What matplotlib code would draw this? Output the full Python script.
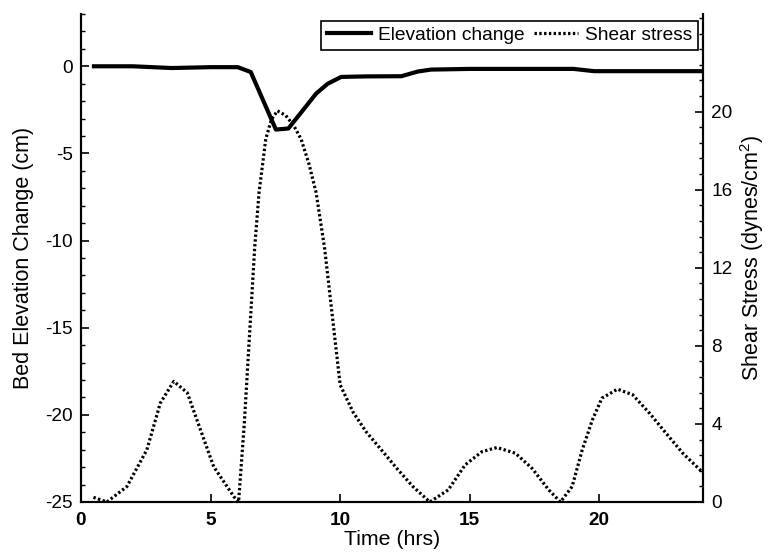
import matplotlib
matplotlib.use("Agg")
import matplotlib.pyplot as plt
from matplotlib.ticker import MultipleLocator

plt.rcParams['font.family'] = ['Liberation Sans', 'DejaVu Sans']
plt.rcParams['mathtext.fontset'] = 'custom'
plt.rcParams['mathtext.rm'] = 'Liberation Sans'
plt.rcParams['axes.unicode_minus'] = False

# Bed elevation change (cm) versus time (hrs)
t_elev = [0.5, 2.0, 3.5, 5.0, 6.05, 6.55, 7.52, 8.0, 8.5, 9.07, 9.52, 10.04,
          11.0, 12.36, 13.0, 13.5, 15.0, 17.0, 19.0, 19.8, 22.0, 24.0]
elev = [0.0, 0.0, -0.1, -0.05, -0.05, -0.33, -3.63, -3.57, -2.64, -1.57, -1.0, -0.61,
        -0.58, -0.57, -0.3, -0.19, -0.15, -0.15, -0.15, -0.28, -0.28, -0.28]

# Bed shear stress (dynes/cm^2) versus time (hrs)
t_shear = [0.48, 1.0, 1.77, 2.54, 3.06, 3.58, 4.1, 4.61, 5.12, 5.9, 6.08, 6.3, 6.5,
           6.7, 6.87, 7.13, 7.35, 7.58, 7.9, 8.2, 8.49, 8.8, 9.07, 9.4, 9.7, 10.0,
           10.5, 11.0, 11.59, 12.2, 12.8, 13.46, 14.17, 14.82, 15.47, 16.05, 16.76,
           17.4, 18.05, 18.5, 18.95, 19.34, 19.73, 20.1, 20.7, 21.28, 21.93, 22.57,
           23.22, 24.0]
shear = [0.24, 0.0, 0.79, 2.67, 5.07, 6.18, 5.6, 3.7, 1.81, 0.27, 0.0, 4.0, 8.5,
         13.0, 15.86, 18.6, 19.6, 20.04, 19.8, 19.3, 18.6, 17.3, 15.86, 13.0, 9.5, 6.0,
         4.6, 3.6, 2.67, 1.7, 0.8, 0.0, 0.62, 1.9, 2.58, 2.79, 2.5,
         1.73, 0.62, 0.0, 0.79, 2.67, 4.2, 5.32, 5.78, 5.5, 4.56, 3.53,
         2.5, 1.5]

x_ticks = [0, 5, 10, 15, 20]
left_ticks = [-25, -20, -15, -10, -5, 0]
right_ticks = [0, 4, 8, 12, 16, 20]

W, H = 771, 555
fig = plt.figure(figsize=(W / 100, H / 100), dpi=100)
ax = fig.add_axes([81 / W, (H - 502) / H, (703 - 81) / W, (502 - 14) / H])
ax2 = ax.twinx()

l1, = ax.plot(t_elev, elev, color='black', lw=3.0, solid_joinstyle='round',
              label='Elevation change')
l2, = ax2.plot(t_shear, shear, color='black', lw=2.3, linestyle=(0, (0.75, 0.75)),
               label='Shear stress')

ax.set_xlim(0, 24)
ax.set_ylim(-25, 3)
ax2.set_ylim(0, 25)

for a in (ax, ax2):
    a.spines['top'].set_visible(False)
    for s in ('left', 'right', 'bottom'):
        a.spines[s].set_linewidth(1.5)
    a.tick_params(which='major', direction='in', length=5.5, width=1.2,
                  labelsize=13.7, pad=6)
    a.tick_params(which='minor', direction='in', length=3.2, width=1.0)

ax.set_xticks(x_ticks)
ax.set_yticks(left_ticks)
ax.yaxis.set_minor_locator(MultipleLocator(1))
ax2.set_yticks(right_ticks)
ax2.yaxis.set_minor_locator(MultipleLocator(0.8))
ax.tick_params(axis='x', pad=7)
for lbl in ax.get_xticklabels():
    lbl.set_fontweight('bold')
ax.tick_params(axis='y', right=False)
ax2.tick_params(axis='y', left=False, pad=6)

ax.set_xlabel('Time (hrs)', fontsize=15.3, labelpad=1)
ax.set_ylabel('Bed Elevation Change (cm)', fontsize=15.5, labelpad=8)
ax2.set_ylabel('Shear Stress (dynes/cm$^2$)', fontsize=15.5, labelpad=4)

leg = ax.legend(handles=[l1, l2], loc='upper right', ncol=2,
                bbox_to_anchor=(698 / W, (H - 21) / H), bbox_transform=fig.transFigure,
                fontsize=13.8, frameon=True, fancybox=False, framealpha=1,
                handlelength=2.3, handletextpad=0.35, columnspacing=0.5,
                borderpad=0.3, borderaxespad=0)
leg.get_frame().set_edgecolor('black')
leg.get_frame().set_linewidth(1.2)
ax.set_zorder(ax2.get_zorder() + 1)
ax.patch.set_visible(False)

fig.savefig('out.png', dpi=100)
